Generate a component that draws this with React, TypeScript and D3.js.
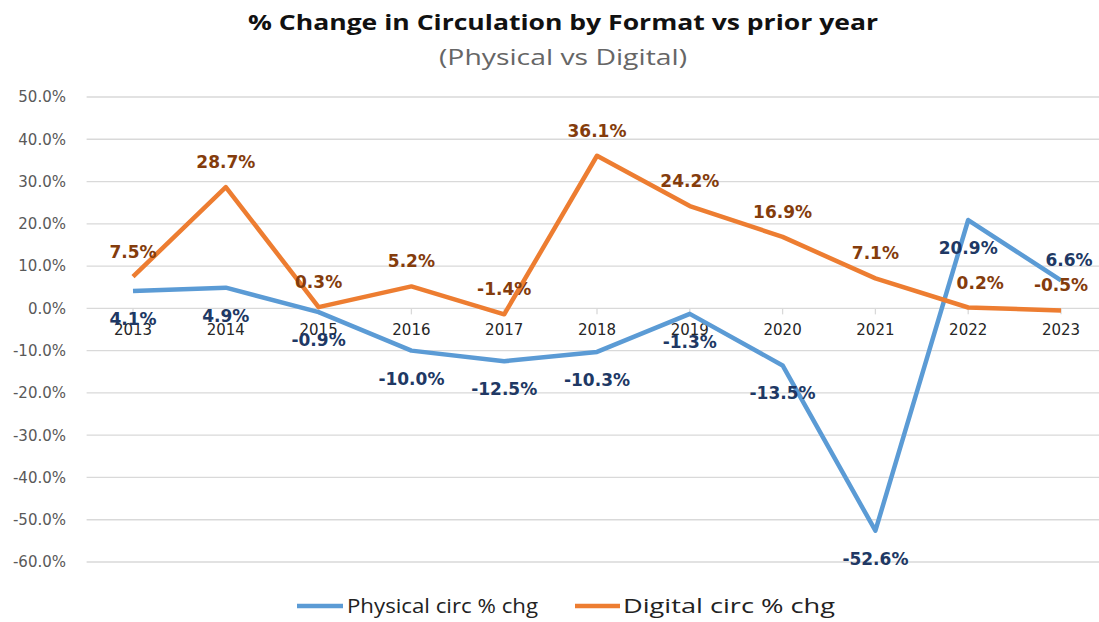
import React from "react";
import * as d3 from "d3";

const years = ["2013", "2014", "2015", "2016", "2017", "2018", "2019", "2020", "2021", "2022", "2023"];
const physical = [4.1, 4.9, -0.9, -10.0, -12.5, -10.3, -1.3, -13.5, -52.6, 20.9, 6.6];
const digital = [7.5, 28.7, 0.3, 5.2, -1.4, 36.1, 24.2, 16.9, 7.1, 0.2, -0.5];
const yTicks = [50, 40, 30, 20, 10, 0, -10, -20, -30, -40, -50, -60];

const width = 1099;
const height = 622;
const plotLeft = 86.6;
const plotRight = 1107.4;
const plotTop = 97;
const plotBottom = 562;

const blue = "#5b9bd5";
const orange = "#ed7d31";
const blueLabel = "#203864";
const orangeLabel = "#843c0c";

const tickFont = "DejaVu Sans, Verdana, sans-serif";
const titleFont = "Open Sans, Noto Sans, sans-serif";

export default function App() {
  const x = d3.scaleBand().domain(years).range([plotLeft, plotRight]).padding(0);
  const cx = (yr: string) => (x(yr) as number) + x.bandwidth() / 2;
  const y = d3.scaleLinear().domain([-60, 50]).range([plotBottom, plotTop]);

  const line = d3
    .line<number>()
    .x((_, i) => cx(years[i]))
    .y((d) => y(d));

  return (
    <div style={{ position: "absolute", left: 0, top: 0 }}>
      <svg width={width} height={height} style={{ display: "block", background: "#fff" }}>
        <text
          x={563}
          y={30}
          textAnchor="middle"
          fontFamily={titleFont}
          fontWeight={700}
          fontSize={22}
          fill="#111"
          textLength={630}
          lengthAdjust="spacingAndGlyphs"
        >
          % Change in Circulation by Format vs prior year
        </text>
        <text
          x={563}
          y={65}
          textAnchor="middle"
          fontFamily={titleFont}
          fontSize={22}
          fill="#666"
          textLength={248}
          lengthAdjust="spacingAndGlyphs"
        >
          (Physical vs Digital)
        </text>

        {yTicks.map((t) => (
          <g key={t}>
            <line x1={plotLeft} x2={plotRight} y1={y(t)} y2={y(t)} stroke="#d9d9d9" strokeWidth={1.3} />
            <text
              x={66}
              y={y(t)}
              dy="0.36em"
              textAnchor="end"
              fontFamily={tickFont}
              fontSize={15}
              fill="#595959"
            >
              {t.toFixed(1)}%
            </text>
          </g>
        ))}

        {years.map((yr) => (
          <g key={yr}>
            <line x1={cx(yr)} x2={cx(yr)} y1={y(0)} y2={y(0) + 6} stroke="#d9d9d9" strokeWidth={1.3} />
            <text
              x={cx(yr)}
              y={y(0) + 27}
              textAnchor="middle"
              fontFamily={tickFont}
              fontSize={15}
              fill="#262626"
            >
              {yr}
            </text>
          </g>
        ))}

        <path d={line(physical) ?? ""} fill="none" stroke={blue} strokeWidth={4.5} strokeLinejoin="round" />
        <path d={line(digital) ?? ""} fill="none" stroke={orange} strokeWidth={4.5} strokeLinejoin="round" />

        {physical.map((v, i) => {
          const above = i === years.length - 1;
          return (
            <text
              key={"p" + i}
              x={cx(years[i]) + (above ? 8 : 0)}
              y={y(v) + (above ? -14 : 34)}
              textAnchor="middle"
              fontFamily={tickFont}
              fontWeight={700}
              fontSize={17}
              fill={blueLabel}
            >
              {v.toFixed(1)}%
            </text>
          );
        })}

        {digital.map((v, i) => (
          <text
            key={"d" + i}
            x={cx(years[i]) + (i === 9 ? 12 : 0)}
            y={y(v) - 19}
            textAnchor="middle"
            fontFamily={tickFont}
            fontWeight={700}
            fontSize={17}
            fill={orangeLabel}
          >
            {v.toFixed(1)}%
          </text>
        ))}

        <g>
          <line x1={297} x2={343} y1={606} y2={606} stroke={blue} strokeWidth={4.5} />
          <text x={347} y={613} fontFamily={titleFont} fontSize={20} fill="#222" textLength={191} lengthAdjust="spacingAndGlyphs">
            Physical circ % chg
          </text>
          <line x1={575} x2={620} y1={606} y2={606} stroke={orange} strokeWidth={4.5} />
          <text x={623} y={613} fontFamily={titleFont} fontSize={20} fill="#222" textLength={212} lengthAdjust="spacingAndGlyphs">
            Digital circ % chg
          </text>
        </g>
      </svg>
    </div>
  );
}
